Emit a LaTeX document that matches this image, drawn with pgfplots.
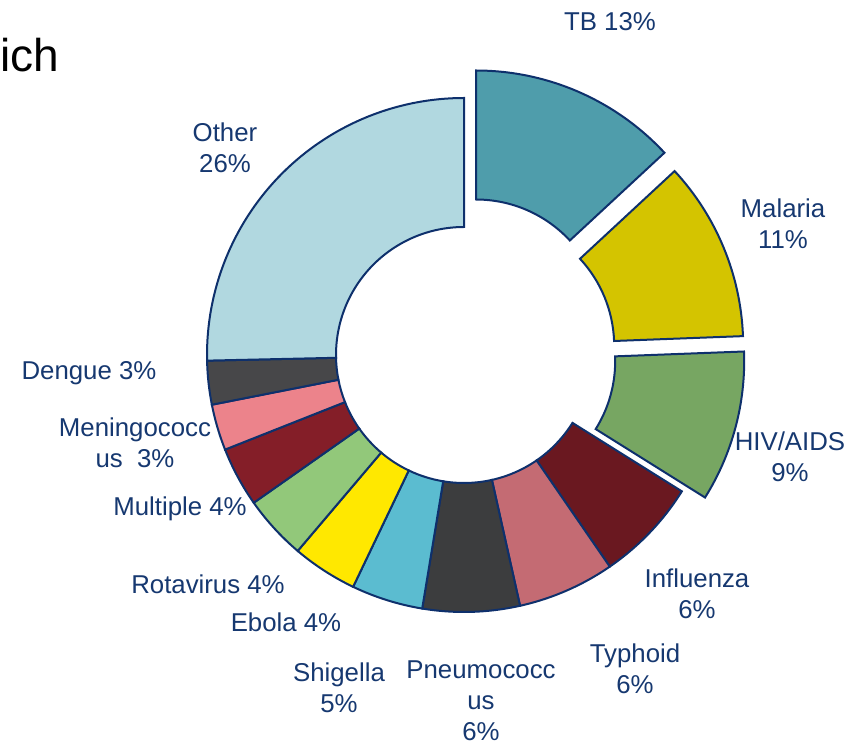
\documentclass[border=0pt]{standalone}
\usepackage{pgfplots}
\usepackage{pgfplotstable}
\pgfplotsset{compat=1.18}
\usepackage{fontspec}
\setmainfont{Liberation Sans}

\definecolor{edgec}{RGB}{14,48,108}
\definecolor{labelc}{RGB}{22,56,112}
\definecolor{cTB}{RGB}{79,157,171}
\definecolor{cMal}{RGB}{212,196,0}
\definecolor{cHIV}{RGB}{119,166,98}
\definecolor{cInf}{RGB}{106,24,32}
\definecolor{cTyp}{RGB}{196,107,115}
\definecolor{cPne}{RGB}{60,61,62}
\definecolor{cShi}{RGB}{91,188,208}
\definecolor{cEbo}{RGB}{255,232,0}
\definecolor{cRot}{RGB}{146,200,122}
\definecolor{cMul}{RGB}{132,30,40}
\definecolor{cMen}{RGB}{236,131,139}
\definecolor{cDen}{RGB}{71,71,73}
\definecolor{cOth}{RGB}{177,216,224}

\tikzset{lbl/.style={font=\fontsize{12.9}{15.5}\selectfont, text=labelc, align=center, inner sep=0pt}}

% share (%), explosion offset (px), fill colour
\pgfplotstableread[col sep=comma]{
name,value,explode,color
TB,13.1,30,cTB
Malaria,11.3,24,cMal
HIV/AIDS,9.5,24,cHIV
Influenza,6.5,0,cInf
Typhoid,6.1,0,cTyp
Pneumococcus,6.1,0,cPne
Shigella,4.5,0,cShi
Ebola,4.1,0,cEbo
Rotavirus,4.05,0,cRot
Multiple,3.75,0,cMul
Meningococcus,2.9,0,cMen
Dengue,2.75,0,cDen
Other,25.35,0,cOth
}\datatable

\begin{document}
\begin{tikzpicture}
\begin{axis}[
  hide axis, scale only axis, clip=false,
  x=0.5pt, y=0.5pt,
  xmin=0, xmax=858, ymin=0, ymax=744,
  enlargelimits=false,
]
\pgfmathsetmacro{\cum}{90}
\pgfplotsforeachungrouped \i in {0,...,12} {
  \pgfplotstablegetelem{\i}{value}\of\datatable \let\v\pgfplotsretval
  \pgfplotstablegetelem{\i}{explode}\of\datatable \let\ex\pgfplotsretval
  \pgfplotstablegetelem{\i}{color}\of\datatable \let\col\pgfplotsretval
  \pgfmathsetmacro{\aS}{\cum}
  \pgfmathsetmacro{\aE}{\cum - \v*3.6}
  \pgfmathsetmacro{\aM}{(\aS+\aE)/2}
  \pgfmathsetmacro{\ox}{464+\ex*cos(\aM)}
  \pgfmathsetmacro{\oy}{389+\ex*sin(\aM)}
  \pgfmathsetmacro{\pAx}{\ox+257*cos(\aS)}
  \pgfmathsetmacro{\pAy}{\oy+257*sin(\aS)}
  \pgfmathsetmacro{\pBx}{\ox+128*cos(\aE)}
  \pgfmathsetmacro{\pBy}{\oy+128*sin(\aE)}
  \edef\temp{\noexpand\draw[draw=edgec, line width=1pt, fill=\col, line join=miter]
     (axis cs:\pAx,\pAy) arc[start angle=\aS, end angle=\aE, radius=128.5pt]
     -- (axis cs:\pBx,\pBy) arc[start angle=\aE, end angle=\aS, radius=64pt] -- cycle;}
  \temp
  \global\let\cum\aE
}

\node[lbl] at (axis cs:610,722) {TB 13\%};
\node[lbl] at (axis cs:783,520.5) {Malaria\\11\%};
\node[lbl] at (axis cs:790,287.5) {HIV/AIDS\\9\%};
\node[lbl] at (axis cs:697,150) {Influenza\\6\%};
\node[lbl] at (axis cs:635,75.5) {Typhoid\\6\%};
\node[lbl] at (axis cs:481,43) {Pneumococc\\us\\6\%};
\node[lbl] at (axis cs:339,56.5) {Shigella\\5\%};
\node[lbl] at (axis cs:286,122) {Ebola 4\%};
\node[lbl] at (axis cs:208,160) {Rotavirus 4\%};
\node[lbl] at (axis cs:180,235) {Multiple 4\%};
\node[lbl] at (axis cs:135,301.5) {Meningococc\\us\ \ 3\%};
\node[lbl] at (axis cs:89,371) {Dengue 3\%};
\node[lbl] at (axis cs:225,596.5) {Other\\26\%};
\node[anchor=base west, inner sep=0pt, font=\fontsize{23}{27}\selectfont] at (axis cs:0,672) {ich};
\end{axis}
\pgfresetboundingbox
\path (current axis.south west) rectangle (current axis.north east);
\end{tikzpicture}
\end{document}
